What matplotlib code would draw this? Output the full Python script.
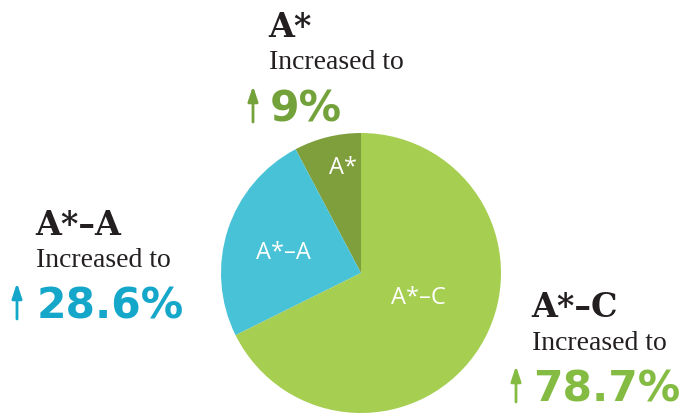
import matplotlib.pyplot as plt

# slice data (pie drawn counter-clockwise from 12 o'clock)
labels = ['A*', 'A*–A', 'A*–C']
values = [9, 28.6, 78.7]
slice_colors = ['#7f9e3c', '#48c2d6', '#a6cf52']
text_colors = ['#74a23a', '#14a7c9', '#84bc43']
captions = ['9%', '28.6%', '78.7%']

W, H = 684, 414

fig = plt.figure(figsize=(W / 100, H / 100), dpi=100)
ax = fig.add_axes([0, 0, 1, 1])


def py(y):
    # pixel row (from top) -> data y
    return H - y


ax.pie(values, colors=slice_colors, startangle=90, counterclock=True,
       center=(361, py(274)), radius=140, frame=True,
       wedgeprops=dict(linewidth=0))
ax.set_xlim(0, W)
ax.set_ylim(0, H)
ax.set_aspect('equal')
ax.axis('off')

# labels inside the slices
inner_pos = [(343, 168), (283, 253), (418, 298)]
for lab, (x, y) in zip(labels, inner_pos):
    ax.text(x, py(y), lab, color='white', fontsize=17,
            ha='center', va='center', family='Open Sans')

# callouts: (x of text, arrow x, baseline of heading, "Increased to", number)
callouts = [
    (268, 253, 37, 69, 122),
    (35, 17, 235, 267, 319),
    (531, 516, 317, 350, 402),
]
for lab, col, cap, (x, ax_x, b1, b2, b3) in zip(labels, text_colors, captions, callouts):
    ax.text(x, py(b1), lab, fontsize=24, fontweight='heavy', color='#231f20',
            family='DejaVu Serif', va='baseline', ha='left')
    ax.text(x + 1, py(b2), 'Increased to', fontsize=20, color='#231f20',
            family='Liberation Serif', va='baseline', ha='left')
    ax.text(x + 2, py(b3), cap, fontsize=30.5, fontweight='bold', color=col,
            family='DejaVu Sans', va='baseline', ha='left')
    ax.annotate('', xy=(ax_x, py(b3 - 35)), xytext=(ax_x, py(b3 + 1)),
                arrowprops=dict(arrowstyle='-|>,head_length=0.9,head_width=0.3',
                                color=col, lw=2.0, shrinkA=0, shrinkB=0))

fig.savefig('out.png', dpi=100)
